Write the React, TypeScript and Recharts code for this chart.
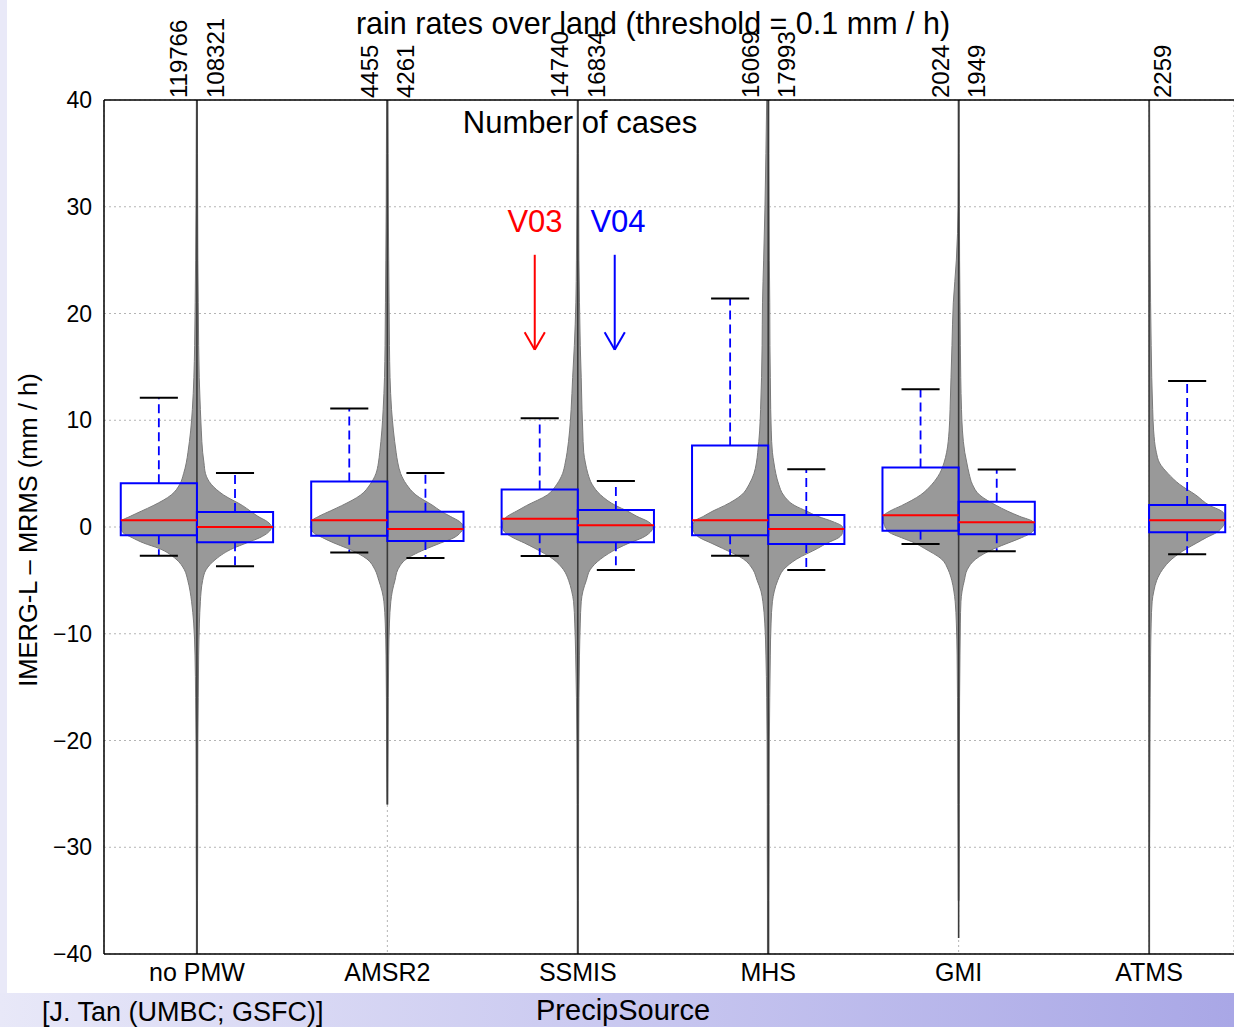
import React from 'react';
import { ComposedChart, Area, XAxis, YAxis, CartesianGrid, ReferenceArea, ReferenceLine } from 'recharts';

const FONT = '"Liberation Sans", Arial, Helvetica, sans-serif';

// ---------- data ----------
const categories = ['no PMW', 'AMSR2', 'SSMIS', 'MHS', 'GMI', 'ATMS'];
const countsV03 = [119766, 4455, 14740, 16069, 2024, null];
const countsV04 = [108321, 4261, 16834, 17993, 1949, 2259];

// box statistics (mm / h)
const q1V03 = [-0.78, -0.81, -0.69, -0.78, -0.34, null];
const medV03 = [0.63, 0.63, 0.78, 0.63, 1.09, null];
const q3V03 = [4.1, 4.27, 3.52, 7.63, 5.58, null];
const whiskLoV03 = [-2.7, -2.4, -2.71, -2.7, -1.59, null];
const whiskHiV03 = [12.1, 11.1, 10.19, 21.4, 12.9, null];

const q1V04 = [-1.43, -1.31, -1.43, -1.59, -0.69, -0.5];
const medV04 = [0.0, -0.19, 0.16, -0.19, 0.44, 0.63];
const q3V04 = [1.4, 1.43, 1.59, 1.12, 2.37, 2.06];
const whiskLoV04 = [-3.67, -2.9, -4.02, -4.02, -2.27, -2.55];
const whiskHiV04 = [5.07, 5.07, 4.3, 5.42, 5.39, 13.67];

// extent of each violin's thin tail
const tailLow = [-40, -26, -40, -40, -38.5, -40];
const tailHigh = [40, 40, 40, 40, 40, 40];

// violin half-widths (category units) at these levels
const yLevels = [-40, -35, -30, -26, -20, -16, -12, -9, -7, -6, -5, -4, -3, -2, -1.5, -1, -0.5, 0, 0.5, 1, 1.5, 2, 3, 4, 5, 6, 7, 9, 11, 14, 17, 21, 25, 30, 35, 40];

const wNoPmwV03 = [0.003, 0.003, 0.004, 0.004, 0.005, 0.007, 0.01, 0.017, 0.028, 0.036, 0.048, 0.066, 0.11, 0.2, 0.28, 0.34, 0.39, 0.4, 0.4, 0.35, 0.29, 0.23, 0.135, 0.09, 0.07, 0.056, 0.047, 0.033, 0.024, 0.016, 0.012, 0.009, 0.007, 0.005, 0.004, 0.003];
const wNoPmwV04 = [0.003, 0.003, 0.004, 0.004, 0.005, 0.007, 0.009, 0.013, 0.018, 0.022, 0.03, 0.048, 0.1, 0.19, 0.26, 0.33, 0.375, 0.392, 0.37, 0.32, 0.28, 0.24, 0.14, 0.075, 0.045, 0.037, 0.03, 0.023, 0.018, 0.012, 0.009, 0.007, 0.005, 0.004, 0.003, 0.003];
const wAmsr2V03 = [null, null, null, 0.002, 0.004, 0.005, 0.007, 0.011, 0.018, 0.028, 0.045, 0.065, 0.107, 0.21, 0.28, 0.34, 0.39, 0.4, 0.4, 0.36, 0.3, 0.24, 0.14, 0.09, 0.06, 0.047, 0.04, 0.029, 0.022, 0.015, 0.012, 0.01, 0.008, 0.006, 0.005, 0.004];
const wAmsr2V04 = [null, null, null, 0.002, 0.004, 0.005, 0.007, 0.011, 0.018, 0.026, 0.04, 0.055, 0.1, 0.21, 0.28, 0.35, 0.385, 0.4, 0.38, 0.33, 0.28, 0.24, 0.15, 0.1, 0.07, 0.055, 0.046, 0.032, 0.022, 0.014, 0.011, 0.009, 0.007, 0.005, 0.004, 0.003];
const wSsmisV03 = [0.003, 0.003, 0.004, 0.004, 0.005, 0.007, 0.011, 0.016, 0.022, 0.032, 0.048, 0.075, 0.13, 0.225, 0.28, 0.34, 0.383, 0.395, 0.394, 0.37, 0.32, 0.27, 0.16, 0.11, 0.08, 0.066, 0.056, 0.043, 0.035, 0.027, 0.018, 0.01, 0.007, 0.005, 0.004, 0.003];
const wSsmisV04 = [0.003, 0.003, 0.004, 0.004, 0.005, 0.006, 0.009, 0.013, 0.018, 0.027, 0.045, 0.065, 0.12, 0.21, 0.27, 0.34, 0.38, 0.395, 0.37, 0.31, 0.26, 0.2, 0.12, 0.075, 0.053, 0.04, 0.031, 0.026, 0.022, 0.018, 0.013, 0.009, 0.006, 0.005, 0.004, 0.003];
const wMhsV03 = [0.004, 0.004, 0.005, 0.005, 0.006, 0.008, 0.012, 0.018, 0.028, 0.038, 0.058, 0.08, 0.13, 0.24, 0.3, 0.36, 0.39, 0.395, 0.39, 0.34, 0.29, 0.23, 0.14, 0.1, 0.075, 0.062, 0.055, 0.045, 0.04, 0.035, 0.032, 0.03, 0.024, 0.017, 0.012, 0.008];
const wMhsV04 = [0.004, 0.004, 0.005, 0.005, 0.006, 0.008, 0.011, 0.015, 0.022, 0.032, 0.05, 0.08, 0.15, 0.26, 0.31, 0.37, 0.39, 0.39, 0.34, 0.26, 0.2, 0.14, 0.08, 0.055, 0.04, 0.03, 0.022, 0.016, 0.013, 0.011, 0.009, 0.008, 0.006, 0.005, 0.004, 0.004];
const wGmiV03 = [null, 0.002, 0.003, 0.004, 0.005, 0.006, 0.008, 0.012, 0.018, 0.025, 0.036, 0.055, 0.09, 0.18, 0.23, 0.3, 0.365, 0.385, 0.395, 0.396, 0.36, 0.3, 0.2, 0.14, 0.1, 0.077, 0.063, 0.05, 0.045, 0.04, 0.035, 0.028, 0.012, 0.003, 0.002, 0.002];
const wGmiV04 = [null, 0.002, 0.003, 0.003, 0.004, 0.005, 0.007, 0.009, 0.012, 0.018, 0.03, 0.045, 0.09, 0.19, 0.26, 0.33, 0.385, 0.4, 0.39, 0.32, 0.255, 0.2, 0.11, 0.072, 0.055, 0.043, 0.032, 0.02, 0.015, 0.011, 0.009, 0.007, 0.005, 0.004, 0.003, 0.003];
const wAtmsV04 = [0.003, 0.003, 0.003, 0.004, 0.005, 0.006, 0.008, 0.011, 0.016, 0.025, 0.04, 0.07, 0.12, 0.2, 0.25, 0.3, 0.356, 0.385, 0.4, 0.4, 0.38, 0.32, 0.245, 0.16, 0.1, 0.055, 0.038, 0.024, 0.019, 0.014, 0.011, 0.008, 0.006, 0.005, 0.004, 0.003];

const yTicks = [-40, -30, -20, -10, 0, 10, 20, 30, 40];

// ---------- derived tables ----------
const centers = categories.map((_, i) => i + 1);
const halves = [
  { cat: 0, side: -1, widths: wNoPmwV03 },
  { cat: 0, side: 1, widths: wNoPmwV04 },
  { cat: 1, side: -1, widths: wAmsr2V03 },
  { cat: 1, side: 1, widths: wAmsr2V04 },
  { cat: 2, side: -1, widths: wSsmisV03 },
  { cat: 2, side: 1, widths: wSsmisV04 },
  { cat: 3, side: -1, widths: wMhsV03 },
  { cat: 3, side: 1, widths: wMhsV04 },
  { cat: 4, side: -1, widths: wGmiV03 },
  { cat: 4, side: 1, widths: wGmiV04 },
  { cat: 5, side: 1, widths: wAtmsV04 },
];

const rows = yLevels.map((y, i) => {
  const r: any = { y };
  halves.forEach((h, k) => {
    const w = h.widths[i];
    r['h' + k] = w == null ? null : centers[h.cat] + h.side * w;
  });
  return r;
});

const topTicks: number[] = [];
const topLabels: string[] = [];
categories.forEach((_, i) => {
  const paired = countsV03[i] != null;
  if (paired) {
    topTicks.push(centers[i] - 0.095);
    topLabels.push(String(countsV03[i]));
  }
  if (countsV04[i] != null) {
    topTicks.push(centers[i] + (paired ? 0.095 : 0.068));
    topLabels.push(String(countsV04[i]));
  }
});

const X_DOMAIN: [number, number] = [0.512, 6.446];
const BOX_W = 0.4;

const TopTick = (props: any) => {
  const { x, y, index } = props;
  return (
    <text
      x={x}
      y={y}
      dy="0.36em"
      transform={`rotate(-90, ${x}, ${y})`}
      textAnchor="start"
      fontSize={24}
      fontFamily={FONT}
      fill="#000"
    >
      {topLabels[index]}
    </text>
  );
};

const fmtY = (v: number) => (v < 0 ? '\u2212' + Math.abs(v) : String(v));

function boxElements(i: number, side: number, q1: any, med: any, q3: any, lo: any, hi: any, key: string) {
  if (q1 == null) return [];
  const c = centers[i];
  const x0 = side < 0 ? c - BOX_W : c;
  const x1 = side < 0 ? c : c + BOX_W;
  const p = c + side * BOX_W / 2;
  const capHalf = BOX_W / 4;
  return [
    <ReferenceLine key={key + 'wu'} segment={[{ x: p, y: q3 }, { x: p, y: hi }]} stroke="#0000ff" strokeWidth={1.8} strokeDasharray="9 5" zIndex={450} />,
    <ReferenceLine key={key + 'wl'} segment={[{ x: p, y: q1 }, { x: p, y: lo }]} stroke="#0000ff" strokeWidth={1.8} strokeDasharray="9 5" zIndex={450} />,
    <ReferenceLine key={key + 'cu'} segment={[{ x: p - capHalf, y: hi }, { x: p + capHalf, y: hi }]} stroke="#000" strokeWidth={2} zIndex={450} />,
    <ReferenceLine key={key + 'cl'} segment={[{ x: p - capHalf, y: lo }, { x: p + capHalf, y: lo }]} stroke="#000" strokeWidth={2} zIndex={450} />,
    <ReferenceArea key={key + 'b'} x1={x0} x2={x1} y1={q1} y2={q3} fill="none" fillOpacity={0} stroke="#0000ff" strokeWidth={2} strokeOpacity={1} zIndex={450} />,
    <ReferenceLine key={key + 'm'} segment={[{ x: x0, y: med }, { x: x1, y: med }]} stroke="#ff0000" strokeWidth={2} zIndex={460} />,
  ];
}

const arrows = [
  { x: 2.774, yFrom: 25.5, yTo: 16.6, color: '#ff0000' },
  { x: 3.194, yFrom: 25.5, yTo: 16.6, color: '#0000ff' },
];
const HEAD_W = 0.053;
const HEAD_L = 1.65;

export default function App() {
  return (
    <div style={{ position: 'absolute', left: 0, top: 0, width: 1234, height: 1027, overflow: 'hidden', background: '#e9e9f8', fontFamily: FONT }}>
      <div style={{ position: 'absolute', left: 0, top: 993, width: 1234, height: 34, background: 'linear-gradient(to right, #e8e8f8 0%, #c9c8f0 50%, #a9a7e6 100%)' }} />
      <div style={{ position: 'absolute', left: 7, top: 0, width: 1227, height: 993, background: '#ffffff' }} />
      <div style={{ position: 'absolute', left: 0, top: 0 }}>
        <ComposedChart
          width={1234}
          height={993}
          layout="vertical"
          data={rows}
          margin={{ top: 0, right: 0, bottom: 0, left: 0 }}
        >
          <CartesianGrid stroke="#b4b4b4" strokeDasharray="2 3" strokeWidth={1} />
          <XAxis
            type="number"
            domain={X_DOMAIN}
            allowDataOverflow
            ticks={centers}
            interval={0}
            height={39}
            tickFormatter={(v: number) => categories[Math.round(v) - 1]}
            tick={{ fill: '#000', fontSize: 25, fontFamily: FONT }}
            axisLine={{ stroke: '#000', strokeWidth: 1.5 }}
            tickLine={false}
            tickSize={6}
            tickMargin={3}
          />
          <XAxis
            xAxisId="top"
            orientation="top"
            type="number"
            domain={X_DOMAIN}
            allowDataOverflow
            ticks={topTicks}
            interval={0}
            height={100}
            tick={<TopTick />}
            axisLine={{ stroke: '#000', strokeWidth: 1.5 }}
            tickLine={false}
            tickSize={2}
            tickMargin={0}
          />
          <YAxis
            type="number"
            dataKey="y"
            domain={[-40, 40]}
            allowDataOverflow
            reversed
            ticks={yTicks}
            interval={0}
            width={104}
            tickFormatter={fmtY}
            tick={{ fill: '#000', fontSize: 23, fontFamily: FONT }}
            axisLine={{ stroke: '#000', strokeWidth: 1.5 }}
            tickLine={false}
            tickSize={6}
            tickMargin={6}
          />
          {halves.map((h, k) => (
            <Area
              key={'v' + k}
              dataKey={'h' + k}
              baseValue={centers[h.cat]}
              type="monotone"
              fill="#999999"
              fillOpacity={1}
              stroke="#7a7a7a"
              strokeWidth={1}
              dot={false}
              activeDot={false}
              isAnimationActive={false}
            />
          ))}
          {centers.map((c, i) => (
            <ReferenceLine key={'t' + i} segment={[{ x: c, y: tailLow[i] }, { x: c, y: tailHigh[i] }]} stroke="#3a3a3a" strokeWidth={1.6} zIndex={300} />
          ))}
          {centers.map((_, i) => boxElements(i, -1, q1V03[i], medV03[i], q3V03[i], whiskLoV03[i], whiskHiV03[i], 'a' + i))}
          {centers.map((_, i) => boxElements(i, 1, q1V04[i], medV04[i], q3V04[i], whiskLoV04[i], whiskHiV04[i], 'b' + i))}
          {arrows.map((a, i) => [
            <ReferenceLine key={'ar' + i} segment={[{ x: a.x, y: a.yFrom }, { x: a.x, y: a.yTo }]} stroke={a.color} strokeWidth={2} zIndex={470} />,
            <ReferenceLine key={'al' + i} segment={[{ x: a.x - HEAD_W, y: a.yTo + HEAD_L }, { x: a.x, y: a.yTo }]} stroke={a.color} strokeWidth={2} zIndex={470} />,
            <ReferenceLine key={'aR' + i} segment={[{ x: a.x + HEAD_W, y: a.yTo + HEAD_L }, { x: a.x, y: a.yTo }]} stroke={a.color} strokeWidth={2} zIndex={470} />,
          ])}
        </ComposedChart>
      </div>
      <svg width={1234} height={1027} style={{ position: 'absolute', left: 0, top: 0, pointerEvents: 'none' }}>
        <text x={653} y={34} textAnchor="middle" fontSize={30.5} fontFamily={FONT} fill="#000">rain rates over land (threshold = 0.1 mm / h)</text>
        <text x={580} y={133} textAnchor="middle" fontSize={31} fontFamily={FONT} fill="#000">Number of cases</text>
        <text x={535} y={232} textAnchor="middle" fontSize={31} fontFamily={FONT} fill="#ff0000">V03</text>
        <text x={618} y={232} textAnchor="middle" fontSize={31} fontFamily={FONT} fill="#0000ff">V04</text>
        <text x={37} y={530} transform="rotate(-90, 37, 530)" textAnchor="middle" fontSize={25.5} fontFamily={FONT} fill="#000">IMERG-L – MRMS (mm / h)</text>
        <text x={42} y={1021} fontSize={27} fontFamily={FONT} fill="#000">[J. Tan (UMBC; GSFC)]</text>
        <text x={536} y={1020} fontSize={29} fontFamily={FONT} fill="#000">PrecipSource</text>
      </svg>
    </div>
  );
}
